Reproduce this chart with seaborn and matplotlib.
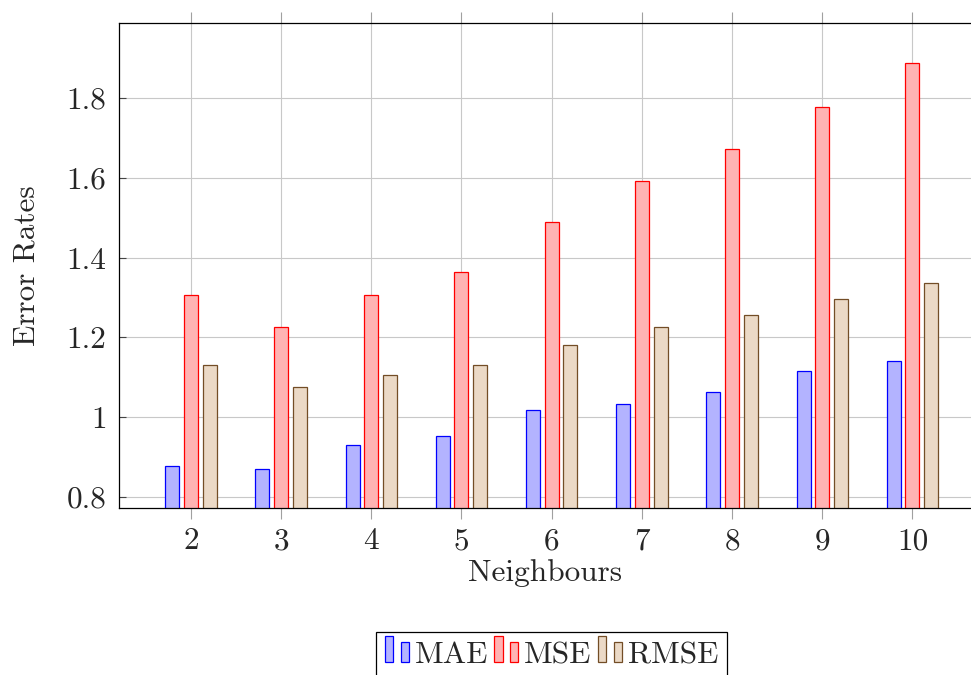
import matplotlib
matplotlib.use("Agg")
import matplotlib.pyplot as plt
from matplotlib.patches import Rectangle
from matplotlib.legend_handler import HandlerBase
import seaborn as sns
import pandas as pd

# Error rates per number of neighbours
neighbours = [2, 3, 4, 5, 6, 7, 8, 9, 10]
mae = [0.877, 0.871, 0.931, 0.953, 1.017, 1.034, 1.064, 1.115, 1.141]
mse = [1.307, 1.226, 1.307, 1.364, 1.489, 1.591, 1.672, 1.777, 1.887]
rmse = [1.130, 1.075, 1.105, 1.132, 1.182, 1.227, 1.255, 1.295, 1.337]
metrics = ["MAE", "MSE", "RMSE"]
y_ticks = [0.8, 1.0, 1.2, 1.4, 1.6, 1.8]
y_tick_labels = ["0.8", "1", "1.2", "1.4", "1.6", "1.8"]

fills = {"MAE": "#b3b3ff", "MSE": "#ffb3b3", "RMSE": "#ebd9c6"}
edges = {"MAE": "#0000ff", "MSE": "#ff0000", "RMSE": "#734d26"}

FS = 22.5

sns.set_style("white")
plt.rcParams["font.family"] = "serif"
plt.rcParams["font.serif"] = ["cmr10"]
plt.rcParams["axes.formatter.use_mathtext"] = True
plt.rcParams["font.size"] = FS

df = pd.DataFrame({
    "Neighbours": neighbours * 3,
    "value": mae + mse + rmse,
    "metric": [m for m in metrics for _ in neighbours],
})

fig = plt.figure(figsize=(9.71, 6.75), dpi=100)
ax = fig.add_axes([119 / 971, 1 - 508 / 675, 853 / 971, 485 / 675])

sns.barplot(data=df, x="Neighbours", y="value", hue="metric", hue_order=metrics,
            order=neighbours, palette=fills, saturation=1, width=0.62, gap=0.25,
            legend=False, ax=ax, zorder=2)

for cont, m in zip(ax.containers, metrics):
    for bar in cont:
        bar.set_edgecolor(edges[m])
        bar.set_linewidth(0.9)

ax.set_xlim(-0.797, 8.66)
ax.set_ylim(0.7724, 1.988)
ax.set_yticks(y_ticks)
ax.set_yticklabels(y_tick_labels)
ax.set_axisbelow(True)
ax.grid(True, color="#c8c8c8", linewidth=0.8)

ax.tick_params(axis="x", direction="out", length=8, width=0.8, color="#a0a0a0",
               top=True, bottom=True, pad=6, labelsize=FS)
ax.tick_params(axis="y", direction="in", length=5, width=0.8, color="#444444",
               left=True, pad=9, labelsize=FS)

for side in ["top", "bottom", "left", "right"]:
    ax.spines[side].set_color("black")
    ax.spines[side].set_linewidth(0.9)

ax.set_xlabel("Neighbours", fontsize=FS, labelpad=3)
ax.set_ylabel("Error Rates", fontsize=FS, labelpad=19)


class TwoBarHandler(HandlerBase):
    """Legend icon made of two narrow bars, the first taller than the second."""

    def create_artists(self, legend, orig_handle, xdescent, ydescent, width,
                       height, fontsize, trans):
        fc, ec = orig_handle
        w = width * 0.34
        r1 = Rectangle((-xdescent, -ydescent), w, height * 1.33,
                       facecolor=fc, edgecolor=ec, linewidth=0.9, transform=trans)
        r2 = Rectangle((-xdescent + width - w, -ydescent), w, height,
                       facecolor=fc, edgecolor=ec, linewidth=0.9, transform=trans)
        return [r1, r2]


handles = [(fills[m], edges[m]) for m in metrics]
leg = fig.legend(handles, metrics, loc="upper center",
                 bbox_to_anchor=(551.5 / 971, 1 - 632 / 675), ncol=3,
                 handler_map={tuple: TwoBarHandler()}, frameon=True,
                 fancybox=False, framealpha=1, edgecolor="black",
                 handlelength=0.77, handleheight=0.62, handletextpad=0.18,
                 columnspacing=0.2, borderpad=0.3, borderaxespad=0,
                 fontsize=FS)
leg.get_frame().set_linewidth(0.9)

fig.savefig("out.png", dpi=100)
